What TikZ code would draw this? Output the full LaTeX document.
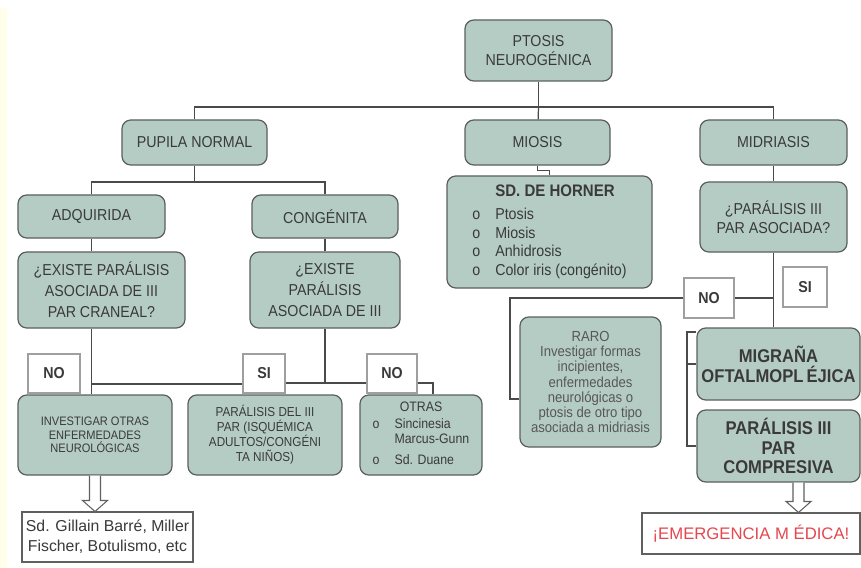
\documentclass[tikz,border=0pt]{standalone}
\usepackage{fontspec}
\setmainfont{Liberation Sans}
\newfontfamily\condfont[FakeStretch=0.9]{Liberation Sans}
\usetikzlibrary{calc}
\definecolor{boxfill}{HTML}{B5CCC4}
\definecolor{boxline}{HTML}{5A5F5C}
\definecolor{ink}{HTML}{3A3A3A}
\definecolor{wirec}{HTML}{4A4A4A}
\definecolor{alarm}{HTML}{E5474F}

% hollow block arrow: from node, to node, x offset of the shaft
\newcommand{\hollowarrow}[3]{%
  \path[hollow] let \p1=($(#1.south)+(#3,0)$), \p2=(#2.north) in
    (\x1-1.1mm,\y1) -- (\x1-1.1mm,\y2+2.2mm) -- (\x1-2.5mm,\y2+2.2mm) -- (\x1,\y2)
    -- (\x1+2.5mm,\y2+2.2mm) -- (\x1+1.1mm,\y2+2.2mm) -- (\x1+1.1mm,\y1);}

\begin{document}
\begin{tikzpicture}[x=0.2mm, y=-0.2mm,
    box/.style={draw=boxline, fill=boxfill, line width=0.7pt, rounded corners=5pt,
      inner sep=0pt, align=center, text=ink, font=\condfont\fontsize{9}{10.5}\selectfont},
    tag/.style={draw=gray!75, fill=white, line width=0.6pt, inner sep=0pt, text=ink,
      font=\condfont\bfseries\fontsize{9}{10}\selectfont},
    plain/.style={draw=gray!75!black, fill=white, line width=0.6pt, inner sep=0pt, align=center},
    wire/.style={draw=wirec, line width=0.7pt},
    hollow/.style={draw=gray!75!black, fill=white, line width=0.6pt}]
  \useasboundingbox (0,0) rectangle (861,568);
  \fill[yellow!8] (0,8) rectangle (7,568);

  % top levels
  \node[box, minimum width=29.4mm, minimum height=12.2mm] (ptosis) at (538.5,50.5) {PTOSIS\\NEUROGÉNICA};
  \node[box, minimum width=29mm, minimum height=9mm] (pupila) at (194.5,142.5) {PUPILA NORMAL};
  \node[box, minimum width=29mm, minimum height=9mm] (miosis) at (537.5,142.5) {MIOSIS};
  \node[box, minimum width=29.4mm, minimum height=9mm] (midriasis) at (773.5,142.5) {MIDRIASIS};

  % pupila normal
  \node[box, minimum width=29.4mm, minimum height=8.6mm] (adquirida) at (91.5,216.5) {ADQUIRIDA};
  \node[box, minimum width=29.2mm, minimum height=8.6mm] (congenita) at (325,216.5) {CONGÉNITA};
  \node[box, minimum width=33.4mm, minimum height=15.2mm, font=\condfont\fontsize{9}{12}\selectfont] (existe1) at (101.5,290) {¿EXISTE PARÁLISIS\\ASOCIADA DE III\\PAR CRANEAL?};
  \node[box, minimum width=30mm, minimum height=15.2mm, font=\condfont\fontsize{9}{12}\selectfont] (existe2) at (325,290) {¿EXISTE\\PARÁLISIS\\ASOCIADA DE III};
  \node[tag, minimum width=10.4mm, minimum height=7.8mm] (noA) at (54,373.5) {NO};
  \node[tag, minimum width=8.4mm, minimum height=7.8mm] (siA) at (264,373.5) {SI};
  \node[tag, minimum width=10mm, minimum height=7.8mm] (noB) at (392,373.5) {NO};
  \node[box, minimum width=30.8mm, minimum height=16mm, font=\condfont\fontsize{7}{7.8}\selectfont] (investigar) at (95,435) {INVESTIGAR OTRAS\\ENFERMEDADES\\NEUROLÓGICAS};
  \node[box, minimum width=30.8mm, minimum height=16mm, font=\condfont\fontsize{7.4}{8.5}\selectfont] (paralisisdel) at (265,435) {PARÁLISIS DEL III\\PAR (ISQUÉMICA\\ADULTOS/CONGÉNI\\TA NIÑOS)};
  \node[box, minimum width=24.4mm, minimum height=16mm, font=\condfont\fontsize{7.8}{8.5}\selectfont] (otras) at (421,435)
    {\begin{tabular}{@{}l@{\hspace{3mm}}l@{}}\multicolumn{2}{c}{OTRAS}\\[1pt] o & Sincinesia\\ & Marcus-Gunn\\[3.5pt] o & Sd. Duane\end{tabular}};
  \node[plain, minimum width=34.2mm, minimum height=10mm, text=ink, font=\fontsize{9}{11.4}\selectfont] (gillain) at (107.5,537) {Sd. Gillain Barré, Miller\\Fischer, Botulismo, etc};

  % miosis
  \node[box, minimum width=41mm, minimum height=22.4mm] (horner) at (549.5,232)
    {\begin{tabular}{@{}l@{\hspace{3mm}}l@{}} & {\bfseries\fontsize{9.5}{11}\selectfont SD. DE HORNER}\\[3pt] o & Ptosis\\ o & Miosis\\ o & Anhidrosis\\ o & Color iris (congénito)\end{tabular}};

  % midriasis
  \node[box, minimum width=29.4mm, minimum height=14mm] (parasoc) at (773.5,217) {¿PARÁLISIS III\\PAR ASOCIADA?};
  \node[tag, minimum width=10mm, minimum height=8mm] (noM) at (709,298) {NO};
  \node[tag, minimum width=8.8mm, minimum height=8mm] (siM) at (805,287) {SI};
  \node[box, minimum width=28.2mm, minimum height=26mm, text=ink!85, font=\condfont\fontsize{8.3}{8.7}\selectfont] (raro) at (590.5,382)
    {RARO\\Investigar formas\\incipientes,\\enfermedades\\neurológicas o\\ptosis de otro tipo\\asociada a midriasis};
  \node[box, minimum width=32.6mm, minimum height=14.4mm, font=\condfont\bfseries\fontsize{10.5}{11.5}\selectfont] (migrana) at (778.5,364) {MIGRAÑA\\OFTALMOPL\,ÉJICA};
  \node[box, minimum width=32.6mm, minimum height=14.4mm, font=\condfont\bfseries\fontsize{10.5}{11}\selectfont] (compresiva) at (778.5,446) {PARÁLISIS III\\PAR\\COMPRESIVA};
  \node[plain, minimum width=43.6mm, minimum height=8.2mm, text=alarm, font=\fontsize{9.5}{11}\selectfont] (emergencia) at (751,533.5) {¡EMERGENCIA M ÉDICA!};

  % connectors
  \coordinate (bus1) at (538.5,107);
  \draw[wire] (ptosis) -- (bus1);
  \draw[wire] (pupila.north) |- (bus1) -| (midriasis.north);
  \draw[wire] (bus1) -- (miosis);
  \coordinate (bus2) at (194.5,182);
  \draw[wire] (pupila) -- (bus2);
  \draw[wire] (adquirida.north) |- (bus2) -| (congenita.north);
  \draw[wire] (adquirida) -- (adquirida |- existe1.north);
  \draw[wire] (congenita) -- (existe2);
  \draw[wire] (adquirida |- existe1.south) -- (adquirida |- investigar.north);
  \coordinate (jA) at (91.5,384);
  \draw[wire] (jA) -- (jA -| siA.west);
  \coordinate (jB) at (325,383);
  \draw[wire] (existe2) -- (jB);
  \draw[wire] (siA.east |- jB) -- (noB.west |- jB);
  \coordinate (jC) at (433,383);
  \draw[wire] (noB.east |- jC) -- (jC) -- (jC |- otras.north);
  \draw[wire] (miosis.south) -- ++(0,5) -| (horner.north);
  \draw[wire] (midriasis) -- (parasoc);
  \draw[wire] (parasoc) -- (parasoc |- migrana.north);
  \coordinate (jM) at (773.5,298);
  \draw[wire] (jM) -- (noM.east);
  \coordinate (jR) at (510,399);
  \draw[wire] (noM.west) -| (jR) -- (jR -| raro.west);
  \coordinate (brk) at (687,332);
  \draw[wire] (brk -| migrana.west) -- (brk) |- (compresiva.west);
  \draw[wire] (brk |- migrana.west) -- (migrana.west);
  \hollowarrow{investigar}{gillain}{0}
  \hollowarrow{compresiva}{emergencia}{20}
\end{tikzpicture}
\end{document}
